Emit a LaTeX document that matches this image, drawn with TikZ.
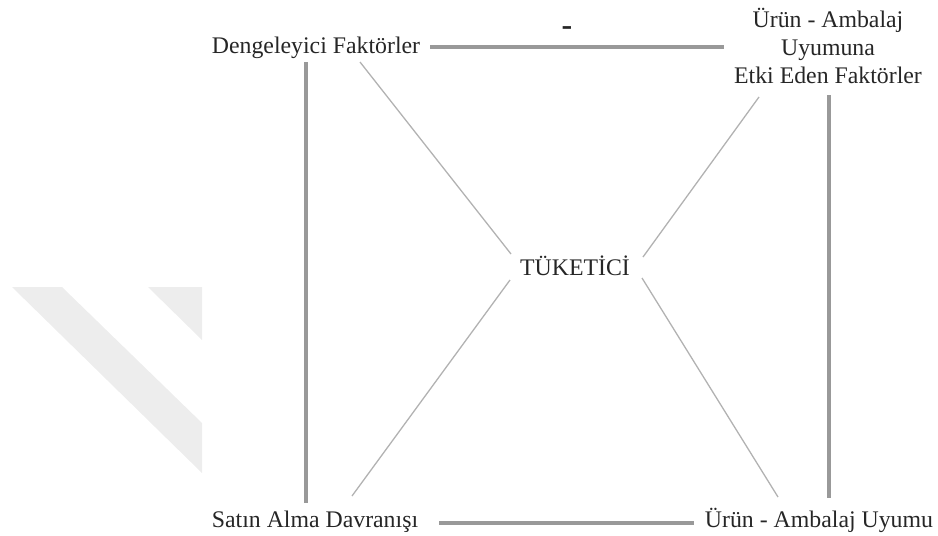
\documentclass[tikz,border=0pt]{standalone}
\usepackage{fontspec}
\setmainfont{Liberation Serif}
\begin{document}
\begin{tikzpicture}[x=1pt,y=-1pt,
  lbl/.style={inner sep=0pt,anchor=base,font=\fontsize{23.8}{28}\selectfont,text=black!85},
  thick line/.style={line width=3.6pt,draw=black!40},
  thin line/.style={line width=1.3pt,draw=black!30},
  wm/.style={fill=black!7,draw=none}]
\useasboundingbox (0,0) rectangle (938,536);
% watermark
\fill[wm] (12,287) -- (62,287) -- (202,423) -- (202,473) -- cycle;
\fill[wm] (148,287) -- (202,287) -- (202,340) -- cycle;
% labels
\node[lbl] (dk) at (316,53) {Dengeleyici Faktörler};
\node[lbl,align=center] (ef) at (828,83) {Ürün - Ambalaj\\Uyumuna\\Etki Eden Faktörler};
\node[lbl] (tk) at (575,275) {TÜKETİCİ};
\node[lbl] (sa) at (315,527) {Satın Alma Davranışı};
\node[lbl] (ua) at (819,527) {Ürün - Ambalaj Uyumu};
\node[lbl,font=\bfseries\fontsize{32}{32}\selectfont] (minus) at (567,35) {-};
% endpoints
\coordinate (t1) at (430,47); \coordinate (t2) at (724,47);
\coordinate (b1) at (439,523); \coordinate (b2) at (694,523);
\coordinate (l1) at (306,62); \coordinate (l2) at (306,503);
\coordinate (r1) at (829,95); \coordinate (r2) at (829,498);
\coordinate (d1a) at (360,62); \coordinate (d1b) at (511,254);
\coordinate (d2a) at (759,97); \coordinate (d2b) at (643,257);
\coordinate (d3a) at (510,280); \coordinate (d3b) at (352,496);
\coordinate (d4a) at (642,278); \coordinate (d4b) at (778,497);
% connectors
\draw[thick line] (t1) -- (t2);
\draw[thick line] (b1) -- (b2);
\draw[thick line] (l1) -- (l2);
\draw[thick line] (r1) -- (r2);
\draw[thin line] (d1a) -- (d1b);
\draw[thin line] (d2a) -- (d2b);
\draw[thin line] (d3a) -- (d3b);
\draw[thin line] (d4a) -- (d4b);
\end{tikzpicture}
\end{document}
